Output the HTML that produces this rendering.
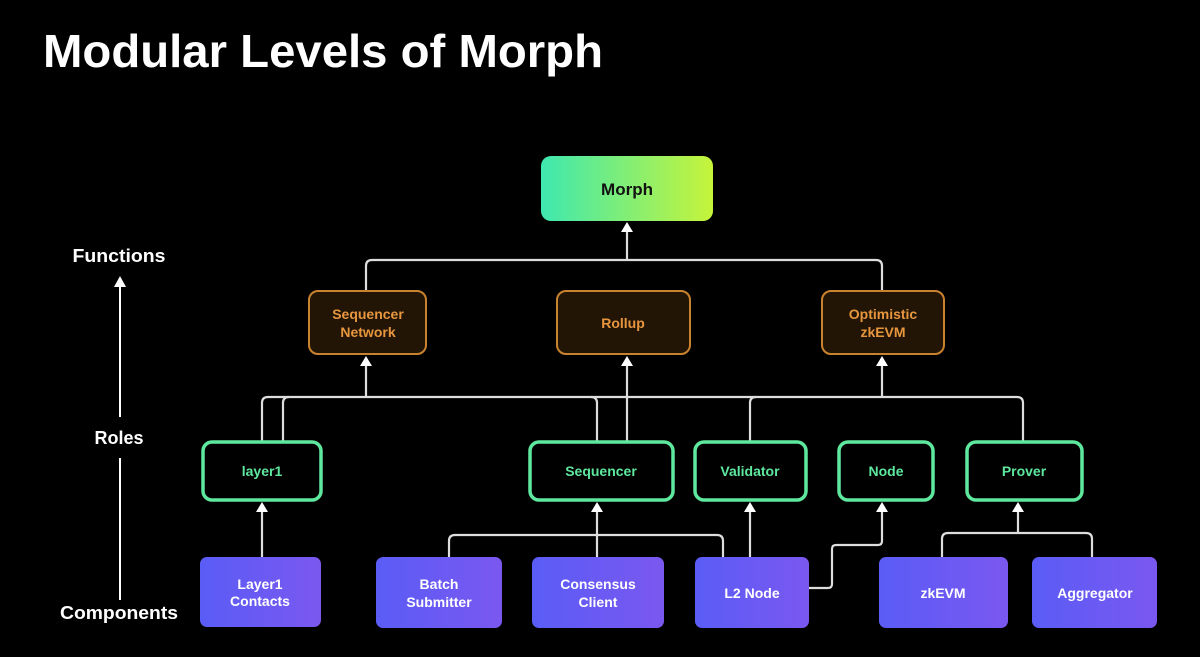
<!DOCTYPE html>
<html><head><meta charset="utf-8"><style>
html,body{margin:0;padding:0;background:#000;}
svg{display:block}
text{font-family:"Liberation Sans",sans-serif;font-weight:bold;}
</style></head><body>
<svg width="1200" height="657" viewBox="0 0 1200 657" xmlns="http://www.w3.org/2000/svg">
<defs>
<linearGradient id="mg" x1="0" x2="1" y1="0" y2="0"><stop offset="0" stop-color="#3ee8b0"/><stop offset="1" stop-color="#c6f43a"/></linearGradient>
<linearGradient id="bg" x1="0" x2="1" y1="0" y2="0"><stop offset="0" stop-color="#5a5cf6"/><stop offset="1" stop-color="#7a58f0"/></linearGradient>
</defs>
<rect width="1200" height="657" fill="#000"/>
<text x="43" y="67" font-size="46" fill="#fff" textLength="560" lengthAdjust="spacingAndGlyphs">Modular Levels of Morph</text>

<line x1="120" y1="600" x2="120" y2="286" stroke="#fff" stroke-width="2"/>
<path d="M114,287 L120,276 L126,287 Z" fill="#fff"/>
<rect x="85" y="417" width="70" height="41" fill="#000"/>
<g fill="#fff" font-size="18" text-anchor="middle">
<text x="119" y="262" textLength="93" lengthAdjust="spacingAndGlyphs">Functions</text>
<text x="119" y="444">Roles</text>
<text x="119" y="619" textLength="118" lengthAdjust="spacingAndGlyphs">Components</text>
</g>

<g fill="none" stroke="#ddd" stroke-width="2.2">
<path d="M366,291 V266 Q366,260 372,260 H876 Q882,260 882,266 V291"/>
<path d="M627,260 V232"/>
<path d="M262,441 V403 Q262,397 268,397 H1017 Q1023,397 1023,403 V441"/>
<path d="M283,441 V403 Q283,397 289,397"/>
<path d="M597,441 V403 Q597,397 591,397"/>
<path d="M750,441 V403 Q750,397 756,397"/>
<path d="M366,397 V366"/>
<path d="M882,397 V366"/>
<path d="M627,441 V366"/>
<path d="M262,557 V512"/>
<path d="M449,557 V541 Q449,535 455,535 H717 Q723,535 723,541 V557"/>
<path d="M597,557 V512"/>
<path d="M750,557 V512"/>
<path d="M809,588 H828 Q832,588 832,584 V549 Q832,545 836,545 H878 Q882,545 882,541 V512"/>
<path d="M942,557 V539 Q942,533 948,533 H1086 Q1092,533 1092,539 V557"/>
<path d="M1018,533 V512"/>
</g>
<g fill="#fff">
<path d="M621,232 L627,222 L633,232 Z"/>
<path d="M360,366 L366,356 L372,366 Z"/>
<path d="M621,366 L627,356 L633,366 Z"/>
<path d="M876,366 L882,356 L888,366 Z"/>
<path d="M256,512 L262,502 L268,512 Z"/>
<path d="M591,512 L597,502 L603,512 Z"/>
<path d="M744,512 L750,502 L756,512 Z"/>
<path d="M876,512 L882,502 L888,512 Z"/>
<path d="M1012,512 L1018,502 L1024,512 Z"/>
</g>

<rect x="541" y="156" width="172" height="65" rx="10" fill="url(#mg)"/>
<text x="627" y="195" font-size="17" fill="#111" text-anchor="middle">Morph</text>

<g fill="#231506" stroke="#c9832f" stroke-width="2">
<rect x="309" y="291" width="117" height="63" rx="9"/>
<rect x="557" y="291" width="133" height="63" rx="9"/>
<rect x="822" y="291" width="122" height="63" rx="9"/>
</g>
<g fill="#e7963e" font-size="14" text-anchor="middle">
<text x="368" y="319">Sequencer</text><text x="368" y="337">Network</text>
<text x="623" y="328">Rollup</text>
<text x="883" y="319">Optimistic</text><text x="883" y="337">zkEVM</text>
</g>

<g fill="#000" stroke="#5ee89e" stroke-width="3.5">
<rect x="203" y="442" width="118" height="58" rx="9"/>
<rect x="530" y="442" width="143" height="58" rx="9"/>
<rect x="695" y="442" width="111" height="58" rx="9"/>
<rect x="839" y="442" width="94" height="58" rx="9"/>
<rect x="967" y="442" width="115" height="58" rx="9"/>
</g>
<g fill="#5ee89e" font-size="14" text-anchor="middle">
<text x="262" y="476">layer1</text>
<text x="601" y="476">Sequencer</text>
<text x="750" y="476">Validator</text>
<text x="886" y="476">Node</text>
<text x="1024" y="476">Prover</text>
</g>

<g fill="url(#bg)">
<rect x="200" y="557" width="121" height="70" rx="7"/>
<rect x="376" y="557" width="126" height="71" rx="7"/>
<rect x="532" y="557" width="132" height="71" rx="7"/>
<rect x="695" y="557" width="114" height="71" rx="7"/>
<rect x="879" y="557" width="129" height="71" rx="7"/>
<rect x="1032" y="557" width="125" height="71" rx="7"/>
</g>
<g fill="#fff" font-size="14" text-anchor="middle">
<text x="260" y="589">Layer1</text><text x="260" y="606">Contacts</text>
<text x="439" y="589">Batch</text><text x="439" y="607">Submitter</text>
<text x="598" y="589">Consensus</text><text x="598" y="607">Client</text>
<text x="752" y="598">L2 Node</text>
<text x="943" y="598">zkEVM</text>
<text x="1095" y="598">Aggregator</text>
</g>
</svg>
</body></html>
